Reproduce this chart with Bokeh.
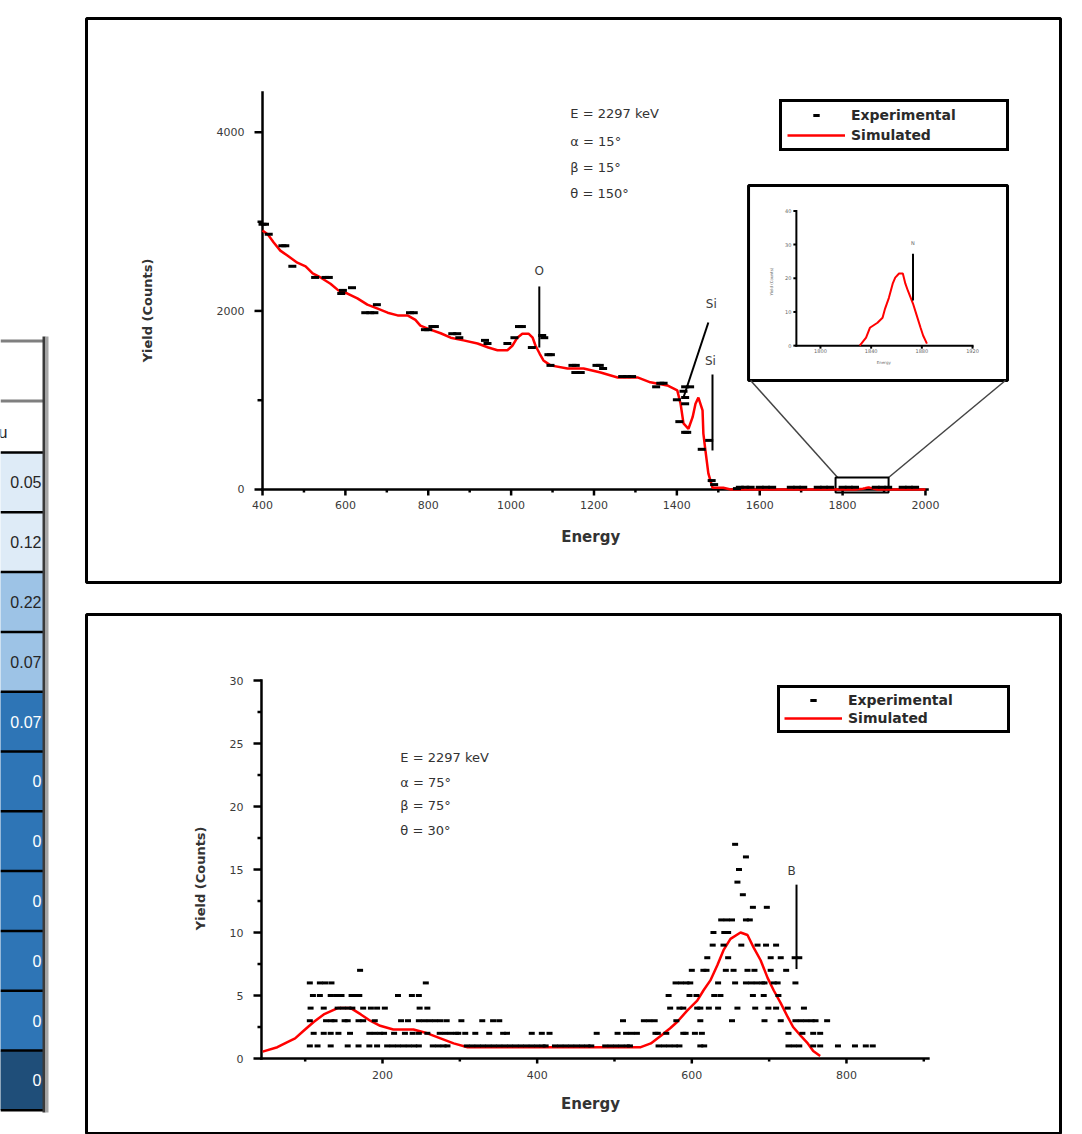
import math
from bokeh.plotting import figure
from bokeh.models import Range1d, Legend, LegendItem, Spacer
from bokeh.layouts import row, column
from bokeh.core.properties import value
from bokeh.embed import file_html
from bokeh.resources import INLINE

# ---------------- data ----------------
# top spectrum (simulated)
top_sim_energy = [400, 413, 427, 443, 460, 484, 504, 521, 540, 564, 583, 605, 629, 653, 678, 702,
                  726, 750, 769, 781, 805, 830, 854, 885, 919, 945, 967, 991, 1003, 1015, 1027,
                  1042, 1052, 1059, 1069, 1078, 1095, 1136, 1175, 1216, 1257, 1305, 1336, 1377,
                  1401, 1409, 1416, 1428, 1438, 1445, 1452, 1462, 1464, 1469, 1476, 1486, 1512,
                  1530, 1825, 1831, 1836, 1839, 1845, 1849, 1851, 1854, 1857, 1859, 1862, 1865,
                  1867, 1869, 1873, 1876, 1879, 1881, 1884, 1890, 2000]
top_sim_yield = [2900, 2856, 2766, 2675, 2620, 2540, 2500, 2420, 2375, 2305, 2230, 2195, 2140, 2070,
                 2025, 1980, 1950, 1950, 1900, 1835, 1790, 1750, 1700, 1670, 1635, 1590, 1560, 1560,
                 1610, 1700, 1745, 1745, 1700, 1610, 1520, 1445, 1390, 1355, 1355, 1310, 1255, 1255,
                 1200, 1165, 1110, 960, 740, 680, 810, 960, 1030, 885, 625, 435, 180, 20, 20,
                 0, 0, 0, 2.4, 5.3, 6.8, 8.3, 11, 14.2, 18.4, 20.2, 21.4, 21.4,
                 18.4, 16.3, 12.5, 8.9, 5.3, 3.0, 0.6, 0, 0]
# top spectrum (experimental)
top_exp_energy = [400, 406, 415, 448, 455, 472, 527, 552, 560, 590, 594, 616, 648, 660, 670, 676,
                  756, 765, 792, 800, 810, 816, 858, 870, 875, 937, 943, 991, 1008, 1019, 1026,
                  1050, 1075, 1080, 1090, 1096, 1095, 1148, 1156, 1155, 1168, 1206, 1214, 1222,
                  1268, 1280, 1292, 1360, 1368, 1350, 1420, 1432, 1400, 1416, 1420, 1420, 1406,
                  1420, 1425, 1460, 1478, 1484, 1490, 1545,
                  1552, 1565, 1578, 1600, 1615, 1630, 1675, 1690, 1705, 1740, 1755, 1770,
                  1800, 1815, 1830, 1880, 1895, 1910, 1945, 1960, 1975]
top_exp_yield = [2970, 2970, 2860, 2730, 2730, 2500, 2375, 2375, 2375, 2195, 2230, 2260, 1980, 1980,
                 1980, 2070, 1980, 1980, 1790, 1790, 1825, 1825, 1745, 1745, 1700, 1670, 1635,
                 1635, 1700, 1825, 1825, 1590, 1725, 1700, 1510, 1510, 1390, 1390, 1390, 1310,
                 1310, 1390, 1390, 1355, 1265, 1265, 1265, 1190, 1190, 1150, 1150, 1150, 1005,
                 1100, 1030, 960, 760, 640, 640, 450, 550, 100, 55, 10,
                 25, 25, 25, 25, 25, 25, 25, 25, 25, 25, 25, 25,
                 25, 25, 25, 25, 25, 25, 25, 25, 25]

# bottom spectrum (simulated)
bottom_sim_energy = [45, 64, 77, 87, 98, 111, 124, 142, 159, 172, 184, 197, 214, 240, 258, 275, 292,
                     310, 430, 534, 547, 560, 572, 581, 594, 607, 615, 624, 633, 641, 650, 663, 672,
                     680, 689, 698, 706, 715, 724, 731, 741, 750, 757, 766]
bottom_sim_counts = [0.55, 0.9, 1.3, 1.6, 2.2, 2.9, 3.5, 4.0, 4.0, 3.5, 3.0, 2.6, 2.3, 2.3, 2.0, 1.6,
                     1.2, 0.9, 0.9, 0.9, 1.2, 1.8, 2.4, 2.9, 3.8, 4.6, 5.4, 6.2, 7.4, 8.6, 9.5,
                     10.0, 9.8, 8.8, 7.8, 6.4, 5.4, 4.4, 3.3, 2.5, 1.8, 1.2, 0.6, 0.2]
# bottom spectrum (experimental): channel energies, one line per count level
bottom_exp_energy = (
    [106, 116, 133, 155, 169, 183, 193, 206, 213, 220, 227, 234, 241, 247, 265, 272, 279, 284, 309,
     316, 323, 330, 337, 344, 351, 358, 365, 372, 379, 386, 393, 400, 407, 411, 423, 430, 437, 444,
     451, 458, 465, 470, 488, 495, 502, 509, 516, 520, 557, 564, 571, 578, 584, 611, 616, 725, 732,
     739, 757, 766, 789, 811, 825, 834]
    + [111, 124, 133, 143, 158, 183, 190, 197, 202, 215, 229, 239, 247, 258, 274, 281, 288, 295, 298,
       307, 320, 338, 356, 361, 393, 406, 416, 477, 504, 515, 522, 529, 553, 556, 567, 589, 592, 604,
       613, 725, 743, 757, 766]
    + [106, 127, 134, 138, 151, 155, 169, 175, 190, 224, 233, 247, 254, 261, 268, 275, 283, 302, 329,
       343, 351, 511, 538, 545, 552, 580, 611, 652, 694, 715, 734, 741, 748, 755, 760, 775]
    + [107, 124, 142, 149, 156, 161, 175, 185, 193, 203, 248, 258, 572, 584, 589, 607, 611, 622, 634,
       659, 682, 699, 709, 724, 745]
    + [110, 119, 133, 140, 147, 160, 166, 170, 220, 238, 247, 570, 597, 606, 629, 637, 679, 693, 712]
    + [106, 119, 126, 134, 256, 579, 586, 593, 598, 634, 656, 670, 677, 684, 691, 694, 706, 711, 734]
    + [171, 600, 615, 619, 644, 654, 672, 681, 702, 722]
    + [620, 647, 702, 715, 733, 739]
    + [627, 641, 664, 685, 696, 709]
    + [628, 642, 647]
    + [638, 645, 652, 670, 675]
    + [679, 697]
    + [666] + [659] + [661] + [670] + [656]
)
bottom_exp_counts = ([1] * 64 + [2] * 43 + [3] * 36 + [4] * 25 + [5] * 19 + [6] * 19 + [7] * 10
                     + [8] * 6 + [9] * 6 + [10] * 3 + [11] * 5 + [12] * 2
                     + [13] + [14] + [15] + [16] + [17])

# left table fragment
table_values = ["0.05", "0.12", "0.22", "0.07", "0.07", "0", "0", "0", "0", "0", "0"]
table_colors = ["#deebf7", "#deebf7", "#9dc3e6", "#9dc3e6", "#2e75b6", "#2e75b6", "#2e75b6",
                "#2e75b6", "#2e75b6", "#2e75b6", "#1f4e79"]
table_text_colors = ["#262626", "#262626", "#262626", "#262626", "white", "white", "white",
                     "white", "white", "white", "white"]

top_params = ["E = 2297 keV", "α = 15°", "β = 15°", "θ = 150°"]
bottom_params = ["E = 2297 keV", "α = 75°", "β = 75°", "θ = 30°"]

top_x_major = [400, 600, 800, 1000, 1200, 1400, 1600, 1800, 2000]
top_x_minor = [500, 700, 900, 1100, 1300, 1500, 1700, 1900]
top_y_major = [0, 2000, 4000]
top_y_minor = [1000, 3000]

inset_x_major = [1800, 1840, 1880, 1920]
inset_y_major = [0, 10, 20, 30, 40]

bottom_x_major = [200, 400, 600, 800]
bottom_x_minor = [100, 300, 500, 700, 900]
bottom_y_major = [0, 5, 10, 15, 20, 25, 30]
bottom_y_minor = [2.5, 7.5, 12.5, 17.5, 22.5, 27.5]

FONT = value("DejaVu Sans")
TABLE_FONT = value("Liberation Sans")


def draw_axes(p, xo, yo, x_end, y_top, xmaj, xmin, ymaj, ymin, sx, sy, fs,
              xlen=(6, 3), ylen=(8, 5), gap_x=12, gap_y=20, lw=2.5, rng=None, color="#3a3a3a"):
    kw = {} if rng is None else dict(x_range_name=rng[0], y_range_name=rng[1])
    p.segment(x0=[xo, xo], y0=[yo, yo], x1=[xo, x_end], y1=[y_top, yo],
              line_color="black", line_width=lw, line_cap="square", **kw)
    p.segment(x0=xmaj, y0=[yo] * len(xmaj), x1=xmaj, y1=[yo - xlen[0] * sy] * len(xmaj),
              line_color="black", line_width=lw, **kw)
    if xmin:
        p.segment(x0=xmin, y0=[yo] * len(xmin), x1=xmin, y1=[yo - xlen[1] * sy] * len(xmin),
                  line_color="black", line_width=lw, **kw)
    p.segment(x0=[xo - ylen[0] * sx] * len(ymaj), y0=ymaj, x1=[xo] * len(ymaj), y1=ymaj,
              line_color="black", line_width=lw, **kw)
    if ymin:
        p.segment(x0=[xo - ylen[1] * sx] * len(ymin), y0=ymin, x1=[xo] * len(ymin), y1=ymin,
                  line_color="black", line_width=lw, **kw)
    p.text(x=xmaj, y=[yo - gap_x * sy] * len(xmaj), text=[str(v) for v in xmaj],
           text_align="center", text_baseline="top", text_font=FONT,
           text_font_size=fs, text_color=color, **kw)
    p.text(x=[xo - gap_y * sx] * len(ymaj), y=ymaj, text=[("%g" % v) for v in ymaj],
           text_align="right", text_baseline="middle", text_font=FONT,
           text_font_size=fs, text_color=color, **kw)


def make_legend(p, items, loc, padding, spacing, label_width):
    lg = Legend(items=items, location=loc, padding=padding, spacing=spacing, margin=0,
                glyph_width=58, glyph_height=16, label_height=16, label_width=label_width,
                label_standoff=6, border_line_color="black", border_line_width=3,
                border_line_alpha=1.0,
                label_text_font="DejaVu Sans", label_text_font_style="bold",
                label_text_font_size="14px", label_text_color="#2a2a2a",
                background_fill_color="white", background_fill_alpha=1)
    p.add_layout(lg)


# ---------------- top panel ----------------
SX_T, SY_T = 2.4134, 11.2
top = figure(width=978, height=568, x_range=Range1d(-24.8, 2325.9), y_range=Range1d(-1041.6, 5275),
             x_axis_location=None, y_axis_location=None, output_backend="svg",
             toolbar_location=None, min_border=2)
top.grid.visible = False
top.outline_line_color = "black"
top.outline_line_width = 3
top.extra_x_ranges = {"ix": Range1d(1220.9, 1989.4)}
top.extra_y_ranges = {"iy": Range1d(-70.3, 97.1)}

# inset frame, zoom connector lines, zoom rectangle
top.quad(left=[1573], right=[2198], bottom=[1221], top=[3405], fill_color="white",
         line_color="black", line_width=3)
top.segment(x0=[1578, 2193], y0=[1221, 1221], x1=[1788, 1911], y1=[134, 134],
            line_color="#444444", line_width=1.5)
top.quad(left=[1783], right=[1911], bottom=[-34], top=[134], fill_alpha=0,
         line_color="black", line_width=2)

draw_axes(top, 400, 0, 2005, 4446, top_x_major, top_x_minor, top_y_major, top_y_minor,
          SX_T, SY_T, "11px", gap_x=12, gap_y=18)

top_sim = top.line(top_sim_energy, top_sim_yield, line_color="red", line_width=2.5)
top_exp = top.scatter(top_exp_energy, top_exp_yield, marker="dash", size=8, line_width=3,
                      line_color="black")

# peak labels
top.segment(x0=[1068, 1476, 1486], y0=[2274, 1870, 1288], x1=[1068, 1416, 1486],
            y1=[1590, 1030, 437], line_color="black", line_width=2)
top.text(x=[1068, 1483, 1481], y=[2442, 2083, 1434], text=["O", "Si", "Si"],
         text_align="center", text_baseline="middle", text_font=FONT,
         text_font_size="12px", text_color="#3a3a3a")

top.text(x=[1143] * 4, y=[4211, 3898, 3606, 3315], text=top_params, text_align="left",
         text_baseline="middle", text_font=FONT, text_font_size="13px", text_color="#333333")

top.text(x=[1192], y=[-537], text=["Energy"], text_align="center", text_baseline="middle",
         text_font=FONT, text_font_style="bold", text_font_size="15px", text_color="#333333")
top.text(x=[122], y=[2005], text=["Yield (Counts)"], angle=math.pi / 2, text_align="center",
         text_baseline="middle", text_font=FONT, text_font_style="bold",
         text_font_size="13px", text_color="#333333")

# inset content
SX_I, SY_I = 0.789, 0.2967
draw_axes(top, 1781, 0, 1920, 40, inset_x_major, [], inset_y_major, [], SX_I, SY_I, "5px",
          xlen=(3, 0), ylen=(3, 0), gap_x=3, gap_y=5, lw=2, rng=("ix", "iy"), color="#666666")
inset_e = [e for e in top_sim_energy if 1790 <= e <= 1895]
inset_y = [y for e, y in zip(top_sim_energy, top_sim_yield) if 1790 <= e <= 1895]
top.line(inset_e[1:-1], inset_y[1:-1], line_color="red", line_width=2,
         x_range_name="ix", y_range_name="iy")
top.segment(x0=[1873], y0=[27.3], x1=[1873], y1=[13.4], line_color="black", line_width=2,
            x_range_name="ix", y_range_name="iy")
top.text(x=[1873], y=[29.5], text=["N"], text_align="center", text_baseline="bottom",
         text_font=FONT, text_font_size="5px", text_color="#666666",
         x_range_name="ix", y_range_name="iy")
top.text(x=[1850], y=[-5], text=["Energy"], text_align="center", text_baseline="middle",
         text_font=FONT, text_font_size="4px", text_color="#666666",
         x_range_name="ix", y_range_name="iy")
top.text(x=[1761], y=[19], text=["Yield (Counts)"], angle=math.pi / 2, text_align="center",
         text_baseline="middle", text_font=FONT, text_font_size="4px", text_color="#666666",
         x_range_name="ix", y_range_name="iy")

make_legend(top, [LegendItem(label="Experimental", renderers=[top_exp]),
                  LegendItem(label="Simulated", renderers=[top_sim])],
            (693, 431), 5, 4, 150)

# ---------------- bottom panel ----------------
SX_B, SY_B = 1.2932, 1 / 12.6
bot = figure(width=978, height=522, x_range=Range1d(-182.8, 1076.8), y_range=Range1d(-6.03, 35.24),
             x_axis_location=None, y_axis_location=None, output_backend="svg",
             toolbar_location=None, min_border_left=2, min_border_right=2, min_border_top=2,
             min_border_bottom=0)
bot.grid.visible = False
bot.outline_line_color = "black"
bot.outline_line_width = 3

draw_axes(bot, 43.5, 0, 906, 30, bottom_x_major, bottom_x_minor, bottom_y_major, bottom_y_minor,
          SX_B, SY_B, "11px", xlen=(5, 3), ylen=(8, 4), gap_x=12, gap_y=18)

bot_sim = bot.line(bottom_sim_energy, bottom_sim_counts, line_color="red", line_width=2.5)
bot_exp = bot.scatter(bottom_exp_energy, bottom_exp_counts, marker="dash", size=6, line_width=3,
                      line_color="black")

bot.segment(x0=[735.4], y0=[13.8], x1=[735.4], y1=[7.1], line_color="black", line_width=2)
bot.text(x=[729], y=[14.9], text=["B"], text_align="center", text_baseline="middle",
         text_font=FONT, text_font_size="12px", text_color="#3a3a3a")

bot.text(x=[223] * 4, y=[23.9, 21.9, 20.1, 18.1], text=bottom_params, text_align="left",
         text_baseline="middle", text_font=FONT, text_font_size="13px", text_color="#333333")

bot.text(x=[469], y=[-3.57], text=["Energy"], text_align="center", text_baseline="middle",
         text_font=FONT, text_font_style="bold", text_font_size="15px", text_color="#333333")
bot.text(x=[-35.4], y=[14.3], text=["Yield (Counts)"], angle=math.pi / 2, text_align="center",
         text_baseline="middle", text_font=FONT, text_font_style="bold",
         text_font_size="13px", text_color="#333333")

make_legend(bot, [LegendItem(label="Experimental", renderers=[bot_exp]),
                  LegendItem(label="Simulated", renderers=[bot_sim])],
            (691, 401), 4, 2, 155)

# ---------------- left table fragment ----------------
tab = figure(width=84, height=1134, x_range=Range1d(0, 84), y_range=Range1d(1134, 0),
             x_axis_location=None, y_axis_location=None, output_backend="svg",
             toolbar_location=None, min_border=0)
tab.grid.visible = False
tab.outline_line_color = None
ROW0, ROWH = 452, 59.8
n = len(table_values)
tops = [ROW0 + i * ROWH for i in range(n)]
tab.quad(left=[-5] * n, right=[43] * n, top=tops, bottom=[t + ROWH for t in tops],
         fill_color=table_colors, line_color=None)
bounds = [ROW0 + i * ROWH for i in range(n + 1)]
tab.segment(x0=[0] * (n + 1), y0=bounds, x1=[43] * (n + 1), y1=bounds, line_color="black",
            line_width=2.5)
tab.segment(x0=[0, 0], y0=[340.5, 400.5], x1=[43, 43], y1=[340.5, 400.5], line_color="#7f7f7f",
            line_width=3)
tab.segment(x0=[43.5, 46.5], y0=[336, 336], x1=[43.5, 46.5], y1=[1112, 1112],
            line_color=["#3a3a3a", "#a6a6a6"], line_width=3)
tab.text(x=[41] * n, y=[t + ROWH / 2 for t in tops], text=table_values, text_align="right",
         text_baseline="middle", text_font=TABLE_FONT, text_font_size="16px",
         text_color=table_text_colors)
tab.text(x=[7], y=[432], text=["u"], text_align="right", text_baseline="middle",
         text_font=TABLE_FONT, text_font_size="16px", text_color="#262626")

layout = row(tab, column(Spacer(height=16), top, Spacer(height=28), bot))
open("out.html", "w").write(file_html(layout, INLINE))
